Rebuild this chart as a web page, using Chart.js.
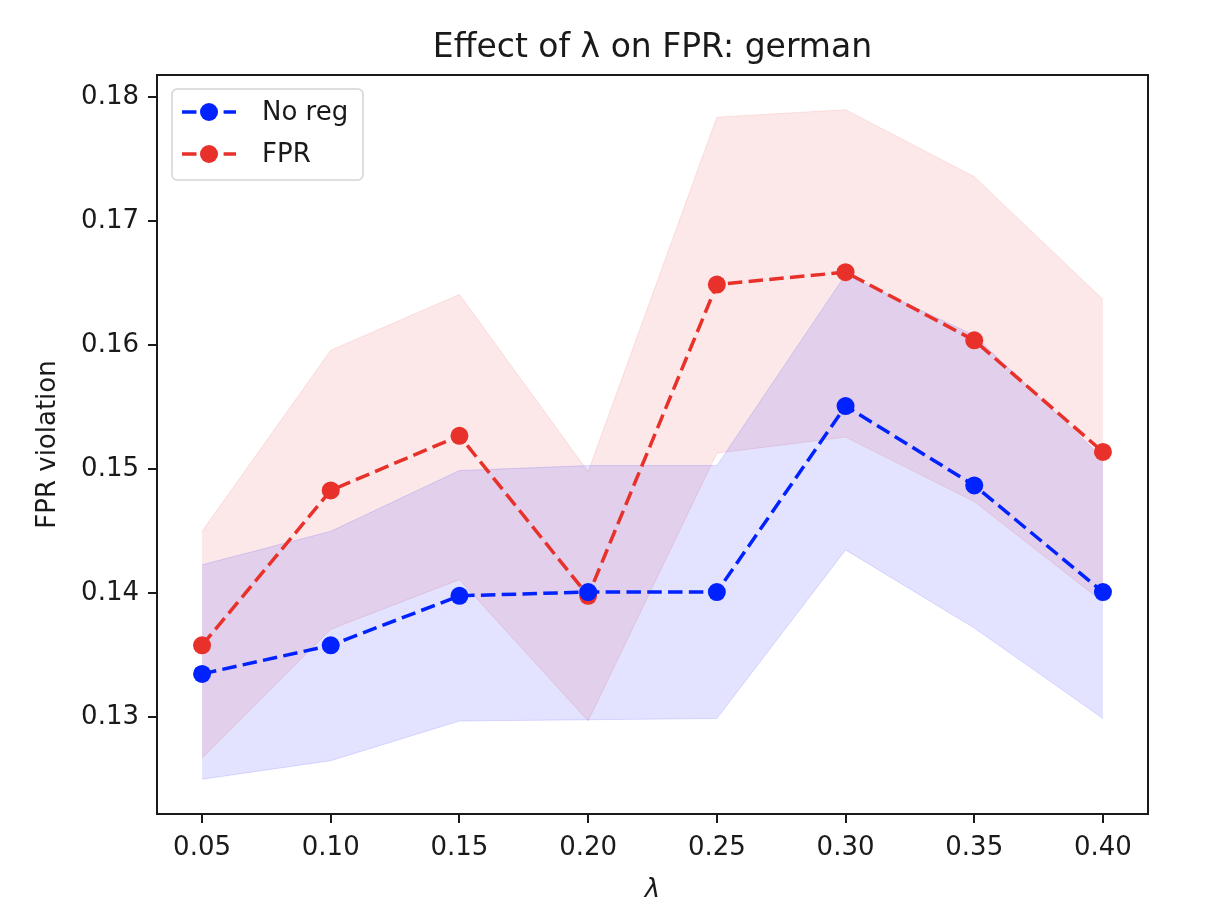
<!DOCTYPE html>
<html>
<head>
<meta charset="utf-8">
<script src="https://cdn.jsdelivr.net/npm/chart.js@4.4.1/dist/chart.umd.min.js"></script>
<style>
  html, body { margin: 0; padding: 0; background: #fff; }
  #chart { display: block; }
</style>
</head>
<body>
<canvas id="chart" width="1222" height="914"></canvas>
<script>
const lambdas = [0.05, 0.10, 0.15, 0.20, 0.25, 0.30, 0.35, 0.40];
const yTicks = [0.13, 0.14, 0.15, 0.16, 0.17, 0.18];

const noRegMean  = [0.1335, 0.1358, 0.1398, 0.1401, 0.1401, 0.1551, 0.1487, 0.1401];
const noRegUpper = [0.1423, 0.1450, 0.1499, 0.1503, 0.1503, 0.1657, 0.1608, 0.1509];
const noRegLower = [0.1250, 0.1265, 0.1297, 0.1298, 0.1299, 0.1435, 0.1372, 0.1299];

const fprMean  = [0.1358, 0.1483, 0.1527, 0.1398, 0.1649, 0.1659, 0.1604, 0.1514];
const fprUpper = [0.1450, 0.1596, 0.1641, 0.1498, 0.1784, 0.1790, 0.1736, 0.1637];
const fprLower = [0.1267, 0.1371, 0.1411, 0.1297, 0.1513, 0.1526, 0.1474, 0.1393];

const TITLE = 'Effect of λ on FPR: german';
const BLUE = '#0022ff';
const RED = '#e8312a';
const INK = '#1a1a1a';
const FONT = "'DejaVu Sans', sans-serif";
const DASH = [14.5, 6.3];

function pts(ys) {
  return lambdas.map((x, i) => ({ x: x, y: ys[i] }));
}

function band(ys, fill, rgb) {
  return {
    data: pts(ys),
    fill: fill,
    borderColor: 'rgba(' + rgb + ',0.12)',
    backgroundColor: 'rgba(' + rgb + ',0.11)',
    borderWidth: 1,
    pointRadius: 0,
    tension: 0,
    order: 5,
    isBand: true
  };
}

function line(label, ys, color) {
  return {
    label: label,
    data: pts(ys),
    borderColor: color,
    backgroundColor: color,
    borderWidth: 3.5,
    borderDash: DASH,
    pointRadius: 9,
    pointBorderWidth: 0,
    pointBackgroundColor: color,
    fill: false,
    tension: 0,
    order: 0
  };
}

// title over the plot area, frame, and a matplotlib-style legend box
const framePlugin = {
  id: 'frame',
  afterDraw(chart) {
    const { ctx, chartArea: a } = chart;
    ctx.save();
    ctx.strokeStyle = INK;
    ctx.lineWidth = 2;
    ctx.strokeRect(a.left, a.top, a.right - a.left, a.bottom - a.top);

    ctx.fillStyle = INK;
    ctx.font = '33px ' + FONT;
    ctx.textAlign = 'center';
    ctx.textBaseline = 'alphabetic';
    ctx.fillText(TITLE, (a.left + a.right) / 2, 57);

    const entries = chart.data.datasets.filter(d => !d.isBand);
    const bx = a.left + 15, by = a.top + 14, bw = 191, bh = 91;
    ctx.fillStyle = 'rgba(255,255,255,0.8)';
    ctx.strokeStyle = '#d4d4d4';
    ctx.lineWidth = 1.5;
    ctx.beginPath();
    ctx.roundRect(bx, by, bw, bh, 5);
    ctx.fill();
    ctx.stroke();

    ctx.textAlign = 'left';
    entries.forEach((d, i) => {
      const cy = by + 23 + i * 42;
      ctx.strokeStyle = d.borderColor;
      ctx.lineWidth = 3.5;
      ctx.setLineDash(DASH);
      ctx.beginPath();
      ctx.moveTo(bx + 10, cy);
      ctx.lineTo(bx + 64, cy);
      ctx.stroke();
      ctx.setLineDash([]);
      ctx.fillStyle = d.borderColor;
      ctx.beginPath();
      ctx.arc(bx + 37, cy, 9, 0, Math.PI * 2);
      ctx.fill();
      ctx.fillStyle = INK;
      ctx.font = '26px ' + FONT;
      ctx.textBaseline = 'middle';
      ctx.fillText(d.label, bx + 90, cy + 1);
    });
    ctx.restore();
  }
};

new Chart(document.getElementById('chart').getContext('2d'), {
  type: 'line',
  data: {
    datasets: [
      band(noRegLower, false, '0,0,255'),
      band(noRegUpper, '-1', '0,0,255'),
      band(fprLower, false, '232,49,42'),
      band(fprUpper, '-1', '232,49,42'),
      line('No reg', noRegMean, BLUE),
      line('FPR', fprMean, RED)
    ]
  },
  options: {
    responsive: false,
    animation: false,
    devicePixelRatio: 1,
    layout: { padding: { left: 0, right: 74, top: 75, bottom: 0 } },
    plugins: {
      legend: { display: false },
      tooltip: { enabled: false },
      title: { display: false }
    },
    scales: {
      x: {
        type: 'linear',
        min: 0.0325,
        max: 0.4175,
        afterBuildTicks: s => { s.ticks = lambdas.map(v => ({ value: v })); },
        afterFit: s => { s.height = 100; },
        ticks: {
          color: INK,
          font: { family: FONT, size: 26 },
          padding: 10,
          maxRotation: 0,
          callback: v => v.toFixed(2)
        },
        grid: { drawOnChartArea: false, drawTicks: true, tickLength: 9, color: INK, lineWidth: 2 },
        border: { display: true, color: INK, width: 2 },
        title: {
          display: true,
          text: 'λ',
          color: INK,
          font: { family: FONT, size: 26, style: 'italic' },
          padding: { top: 0, bottom: 8 }
        }
      },
      y: {
        min: 0.1222,
        max: 0.1818,
        afterBuildTicks: s => { s.ticks = yTicks.map(v => ({ value: v })); },
        afterFit: s => { s.width = 157; },
        ticks: {
          color: INK,
          font: { family: FONT, size: 26 },
          padding: 9,
          callback: v => v.toFixed(2)
        },
        grid: { drawOnChartArea: false, drawTicks: true, tickLength: 9, color: INK, lineWidth: 2 },
        border: { display: true, color: INK, width: 2 },
        title: {
          display: true,
          text: 'FPR violation',
          color: INK,
          font: { family: FONT, size: 26 },
          padding: { top: 33, bottom: 0 }
        }
      }
    }
  },
  plugins: [framePlugin]
});
</script>
</body>
</html>
